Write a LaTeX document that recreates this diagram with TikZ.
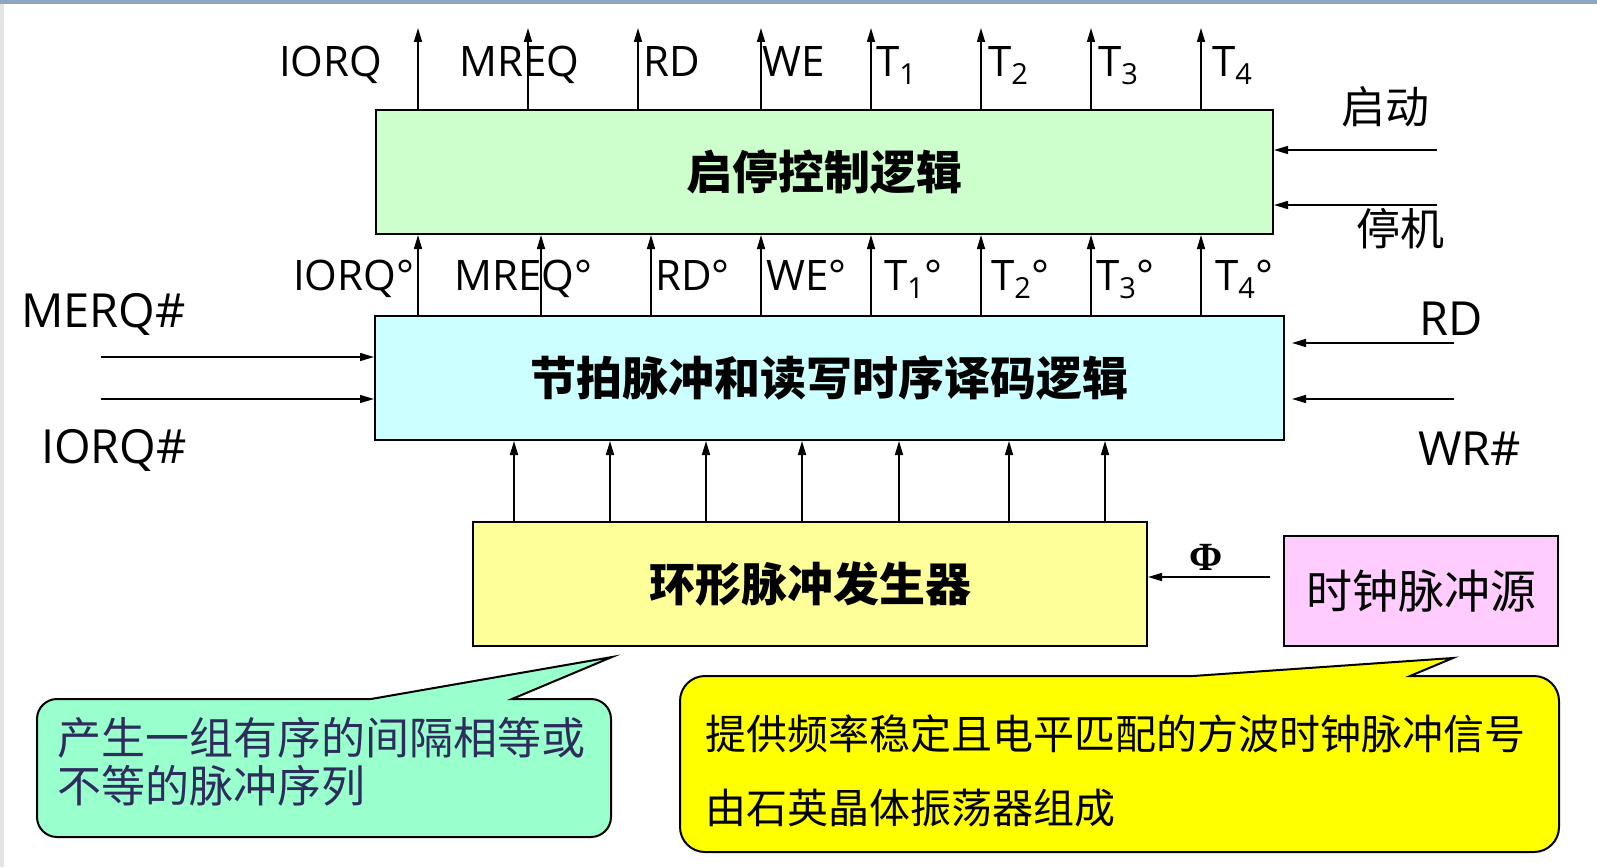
\documentclass[tikz,border=0pt]{standalone}
\usepackage{fontspec}
\setmainfont{Noto Sans CJK SC}
\newfontfamily\sigfont{Open Sans}
\newfontfamily\phifont{Liberation Serif}
\usetikzlibrary{arrows.meta}
\definecolor{ctrlfill}{HTML}{CCFFCC}
\definecolor{decfill}{HTML}{CCFFFF}
\definecolor{ringfill}{HTML}{FFFF99}
\definecolor{clkfill}{HTML}{FFCCFF}
\definecolor{notegreen}{HTML}{99FFCC}
\definecolor{noteyellow}{HTML}{FFFF00}
\definecolor{notetext}{HTML}{2E2C5C}
\definecolor{slidebar}{HTML}{8FA5C4}
\definecolor{slideedge}{HTML}{E4E4E4}
\newcommand\fs[1]{\fontsize{#1}{#1}\selectfont}
\newcommand\sigsub[1]{\raisebox{-8pt}{\fs{29}#1}}
\tikzset{
  blk/.style={draw, line width=2pt, inner sep=0pt, minimum height=124pt, font=\fs{46}\bfseries},
  sig/.style={line width=1.5pt, -{Triangle[length=14pt,width=8pt]}},
  lbl/.style={anchor=base west, inner sep=0pt, font=\fs{42}\sigfont},
  buslbl/.style={lbl, font=\fs{47}\sigfont},
  note/.style={draw, line width=2pt},
}

\begin{document}
\begin{tikzpicture}[x=1pt,y=-1pt]
\useasboundingbox (0,0) rectangle (1597,867);
% slide frame
\fill[slidebar] (0,0) rectangle (1597,4);
\fill[slideedge] (0,4) rectangle (4,867);
% blocks
\node[blk, fill=ctrlfill, minimum width=897pt] (ctrl) at (824.5,172) {启停控制逻辑};
\node[blk, fill=decfill, minimum width=909pt] (decode) at (829.5,378) {节拍脉冲和读写时序译码逻辑};
\node[blk, fill=ringfill, minimum width=674pt] (ring) at (810,584) {环形脉冲发生器};
\node[blk, fill=clkfill, minimum width=274pt, minimum height=110pt, font=\fs{46}] (clk) at (1421,591) {时钟脉冲源};
% outputs of the start/stop logic
\foreach \x [count=\i] in {418,528,638,761,871,981,1091,1201}{
  \coordinate (out\i) at (\x,28);
  \draw[sig] (ctrl.north -| out\i) -- (out\i);}
\foreach \x in {418,541,651,761,871,981,1091,1201}
  \draw[sig] (\x,0 |- decode.north) -- (\x,0 |- ctrl.south);
\foreach \x in {514,610,706,802,899,1009,1105}
  \draw[sig] (\x,0 |- ring.north) -- (\x,0 |- decode.south);
% side inputs
\coordinate (merqin) at (101,357);
\coordinate (iorqin) at (101,399);
\coordinate (rdin) at (1454,343);
\coordinate (wrin) at (1454,399);
\coordinate (startin) at (1437,150);
\coordinate (stopin) at (1437,205);
\coordinate (phi) at (1270,577);
\draw[sig] (merqin) -- (merqin -| decode.west);
\draw[sig] (iorqin) -- (iorqin -| decode.west);
\draw[sig] (rdin) -- ([xshift=7pt]rdin -| decode.east);
\draw[sig] (wrin) -- ([xshift=7pt]wrin -| decode.east);
\draw[sig] (startin) -- (startin -| ctrl.east);
\draw[sig] (stopin) -- (stopin -| ctrl.east);
\draw[sig] (phi) -- (phi -| ring.east);
% signal names
\node[lbl] (iorq) at (279,76) {IORQ};
\node[lbl] (mreq) at (459,76) {MREQ};
\node[lbl] (rd) at (643,76) {RD};
\node[lbl] (we) at (762,76) {WE};
\node[lbl] (t1) at (876,76) {T\sigsub{1}};
\node[lbl] (t2) at (988,76) {T\sigsub{2}};
\node[lbl] (t3) at (1098,76) {T\sigsub{3}};
\node[lbl] (t4) at (1212,76) {T\sigsub{4}};
\node[lbl] (iorqo) at (293,290) {IORQ°};
\node[lbl] (mreqo) at (454,290) {MREQ°};
\node[lbl] (rdo) at (655,290) {RD°};
\node[lbl] (weo) at (766,290) {WE°};
\node[lbl] (t1o) at (884,290) {T\sigsub{1}°};
\node[lbl] (t2o) at (991,290) {T\sigsub{2}°};
\node[lbl] (t3o) at (1096,290) {T\sigsub{3}°};
\node[lbl] (t4o) at (1215,290) {T\sigsub{4}°};
\node[buslbl] (merq) at (21,327) {MERQ\#};
\node[buslbl] (iorqn) at (41,463) {IORQ\#};
\node[buslbl] (rdn) at (1419,335) {RD};
\node[buslbl] (wrn) at (1418,465) {WR\#};
\node[font=\fs{44}] (start) at (1385,107) {启动};
\node[font=\fs{44}] (stop) at (1400,229) {停机};
\node[font=\fs{40}\phifont\bfseries] (phiname) at (1206,557) {Φ};
% callouts
\draw[note, fill=notegreen] (371,699) [rounded corners=20pt] -- (37,699) -- (37,837) -- (611,837) -- (611,699) [sharp corners] -- (512,699) -- (612,657) -- cycle;
\node[anchor=west, align=left, inner sep=0pt, text=notetext, font=\fontsize{44}{48}\selectfont] (ringnote) at (57,762) {产生一组有序的间隔相等或\\不等的脉冲序列};
\draw[note, fill=noteyellow] (1193,676) [rounded corners=25pt] -- (680,676) -- (680,852) -- (1559,852) -- (1559,676) [sharp corners] -- (1410,676) -- (1453,658) -- cycle;
\node[anchor=west, align=left, inner sep=0pt, font=\fontsize{41}{74}\selectfont] (clknote) at (705,771) {提供频率稳定且电平匹配的方波时钟脉冲信号\\由石英晶体振荡器组成};
\end{tikzpicture}
\end{document}
